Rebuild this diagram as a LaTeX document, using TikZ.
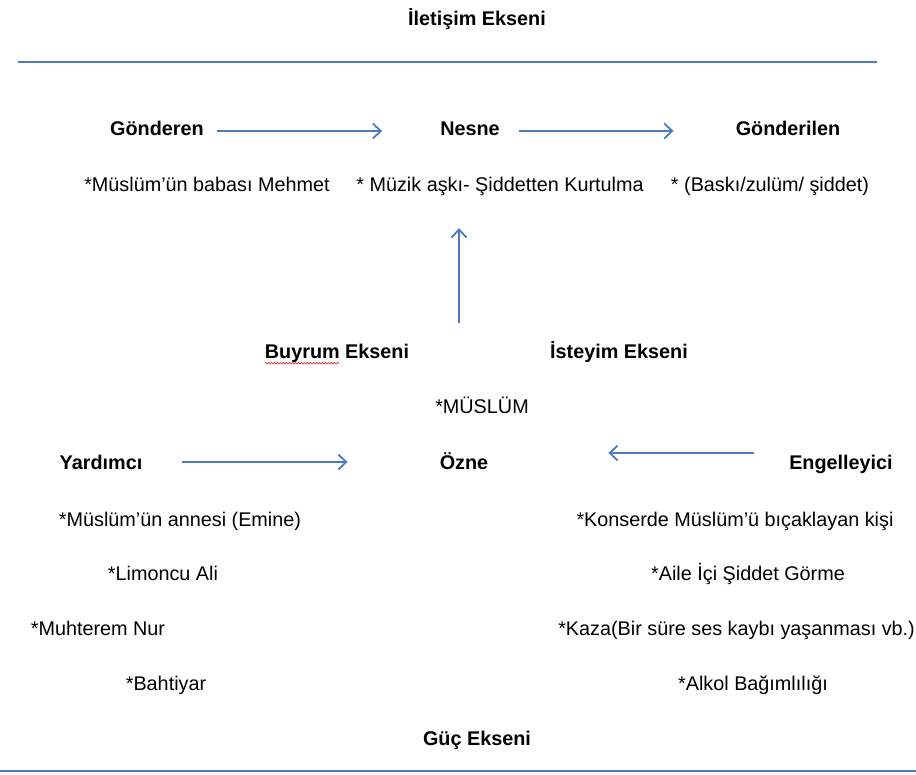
\documentclass[tikz,border=0pt]{standalone}
\usepackage{fontspec}
\setmainfont{Liberation Sans}
\usetikzlibrary{arrows.meta, decorations.pathmorphing}
\definecolor{axisblue}{RGB}{74, 122, 192}
\definecolor{spellred}{RGB}{225, 40, 40}

\begin{document}
\begin{tikzpicture}[
	x=1pt, y=-1pt,
	font=\fontsize{19.8}{24}\selectfont,
	% Styles for the texts
	axistext/.style={font=\fontsize{19.8}{24}\selectfont\bfseries, inner sep=0pt, text height=14pt, text depth=0pt},
	roletext/.style={axistext},
	itemtext/.style={inner sep=0pt, text height=14pt, text depth=0pt},
	% Styles for the lines and arrows
	axisline/.style={axisblue, line width=1.4pt},
	flow/.style={axisblue, line width=1.6pt, -{Straight Barb[length=8pt, width=15pt, line width=1.8pt]}},
	wavy/.style={spellred, line width=0.6pt, decorate, decoration={snake, amplitude=0.9pt, segment length=3pt}}
	]
	\clip (0,0) rectangle (916,775);
	
	% ==========================================
	% TOP: ILETISIM EKSENI
	% ==========================================
	\node[axistext] (iletisim) at (477, 19) {İletişim Ekseni};
	\draw[axisline] (18, 62) -- (877, 62);
	
	\node[roletext] (gonderen) at (157, 129) {Gönderen};
	\node[roletext] (nesne) at (470, 129) {Nesne};
	\node[roletext] (gonderilen) at (788, 129) {Gönderilen};
	
	\node[itemtext] (gonderendesc) at (207, 185) {*Müslüm’ün babası Mehmet};
	\node[itemtext] (nesnedesc) at (500, 185) {* Müzik aşkı- Şiddetten Kurtulma};
	\node[itemtext] (gonderilendesc) at (770, 185) {* (Baskı/zulüm/ şiddet)};
	
	\draw[flow, shorten <=13pt, shorten >=58pt] ([yshift=-2pt]gonderen.east) -- ([yshift=-2pt]nesne.west);
	\draw[flow, shorten <=19pt, shorten >=62pt] ([yshift=-2pt]nesne.east) -- ([yshift=-2pt]gonderilen.west);
	
	% Upward arrow to the object
	\coordinate (istek) at (459, 323);
	\draw[flow, shorten >=36pt] (istek) -- (istek |- nesnedesc.south);
	
	% ==========================================
	% MIDDLE: BUYRUM / ISTEYIM
	% ==========================================
	\node[axistext] (buyrum) at (337, 352) {Buyrum Ekseni};
	\draw[wavy] ([yshift=-4pt]buyrum.south west) -- ++(75, 0);
	\node[axistext] (isteyim) at (619, 352) {İsteyim Ekseni};
	
	\node[itemtext] (muslum) at (482, 407) {*MÜSLÜM};
	
	\node[roletext] (yardimci) at (101, 463) {Yardımcı};
	\node[roletext] (ozne) at (464, 463) {Özne};
	\node[roletext] (engelleyici) at (841, 463) {Engelleyici};
	
	\draw[flow, shorten <=40pt, shorten >=92pt] ([yshift=1pt]yardimci.east) -- ([yshift=1pt]ozne.west);
	\draw[flow, shorten <=35pt, shorten >=120pt] ([yshift=10pt]engelleyici.west) -- ([yshift=10pt]ozne.east);
	
	% ==========================================
	% BOTTOM: HELPERS AND OPPONENTS
	% ==========================================
	\node[itemtext] (anne) at (180, 519) {*Müslüm’ün annesi (Emine)};
	\node[itemtext] (limoncu) at (163, 573) {*Limoncu Ali};
	\node[itemtext] (muhterem) at (98, 628) {*Muhterem Nur};
	\node[itemtext] (bahtiyar) at (166, 683) {*Bahtiyar};
	
	\node[itemtext] (konser) at (735, 519) {*Konserde Müslüm’ü bıçaklayan kişi};
	\node[itemtext] (aile) at (748, 573) {*Aile İçi Şiddet Görme};
	\node[itemtext, anchor=east] (kaza) at (915, 628) {*Kaza(Bir süre ses kaybı yaşanması vb.)};
	\node[itemtext] (alkol) at (753, 683) {*Alkol Bağımlılığı};
	
	\node[axistext] (guc) at (477, 738) {Güç Ekseni};
	\draw[axisline] (0, 771) -- (916, 771);
	
\end{tikzpicture}
\end{document}
